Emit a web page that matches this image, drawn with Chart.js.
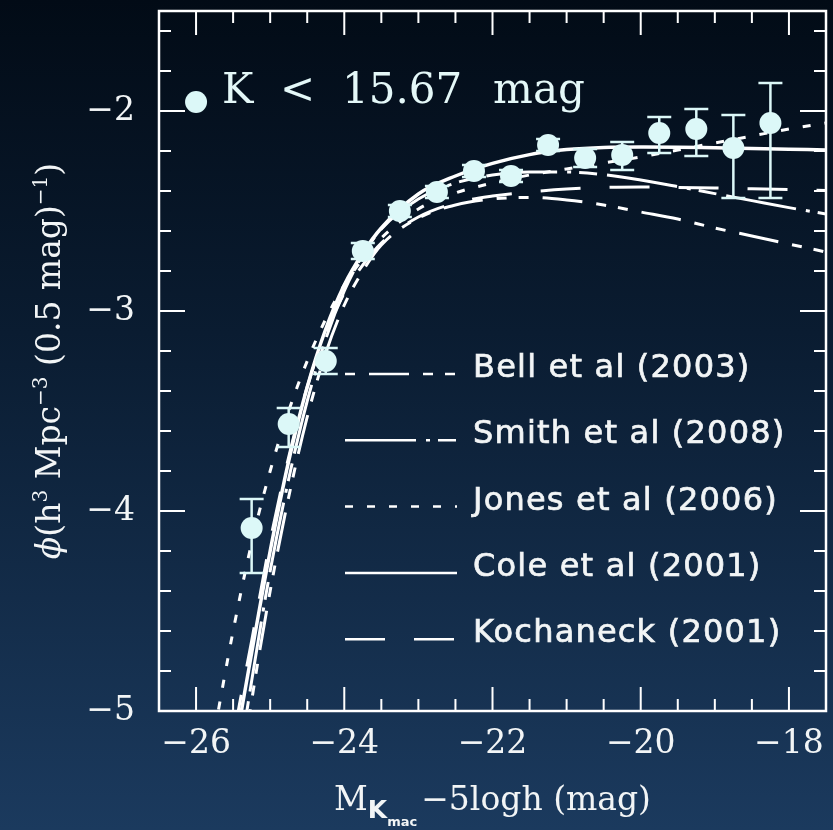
<!DOCTYPE html>
<html>
<head>
<meta charset="utf-8">
<title>K-band luminosity function</title>
<script src="https://cdn.jsdelivr.net/npm/chart.js@4.4.1/dist/chart.umd.min.js"></script>
<style>
    html, body { margin: 0; padding: 0; }
    body {
        width: 833px;
        height: 830px;
        overflow: hidden;
        background: linear-gradient(to bottom, #020b16 0%, #0a1c31 40%, #1b3a5e 100%);
    }
    canvas { display: block; }
</style>
</head>
<body>
<canvas id="lfChart" width="833" height="830"></canvas>
<script>
// observed counts, 0.5 mag bins
const binMags  = [-25.25, -24.75, -24.25, -23.75, -23.25, -22.75, -22.25, -21.75, -21.25, -20.75, -20.25, -19.75, -19.25, -18.75, -18.25];
const phiObs   = [-4.085, -3.565, -3.25, -2.70, -2.50, -2.405, -2.30, -2.325, -2.17, -2.235, -2.22, -2.11, -2.09, -2.185, -2.06];
const phiUpper = [-3.94, -3.485, -3.185, -2.66, -2.47, -2.375, -2.27, -2.295, -2.14, -2.19, -2.155, -2.03, -1.99, -2.02, -1.86];
const phiLower = [-4.31, -3.68, -3.315, -2.74, -2.53, -2.435, -2.33, -2.355, -2.20, -2.28, -2.295, -2.21, -2.225, -2.435, -2.435];

// published Schechter fits, sampled on a common magnitude grid
const curveMags = [-25.75, -25.5, -25.25, -25.0, -24.75, -24.5, -24.25, -24.0, -23.75, -23.5, -23.0, -22.5, -22.0, -21.5, -21.0, -20.5, -20.0, -19.5, -19.0, -18.5, -18.0, -17.5];
const bellPhi  = [-6.3, -5.6, -4.95, -4.40, -3.93, -3.53, -3.21, -2.97, -2.80, -2.67, -2.535, -2.47, -2.44, -2.432, -2.445, -2.47, -2.505, -2.54, -2.585, -2.625, -2.665, -2.705];
const smithPhi = [-6.1, -5.45, -4.85, -4.30, -3.84, -3.45, -3.14, -2.90, -2.72, -2.59, -2.44, -2.36, -2.32, -2.305, -2.305, -2.318, -2.345, -2.378, -2.413, -2.448, -2.483, -2.515];
const jonesPhi = [-5.1, -4.60, -4.16, -3.80, -3.50, -3.25, -3.04, -2.87, -2.74, -2.635, -2.49, -2.41, -2.36, -2.32, -2.29, -2.26, -2.23, -2.195, -2.16, -2.125, -2.09, -2.06];
const colePhi  = [-5.9, -5.25, -4.71, -4.20, -3.75, -3.38, -3.09, -2.87, -2.71, -2.585, -2.415, -2.325, -2.262, -2.218, -2.193, -2.182, -2.18, -2.181, -2.184, -2.187, -2.191, -2.195];
const kochPhi  = [-5.8, -5.15, -4.65, -4.15, -3.73, -3.38, -3.11, -2.91, -2.77, -2.66, -2.53, -2.46, -2.425, -2.405, -2.39, -2.382, -2.38, -2.382, -2.385, -2.389, -2.393, -2.397];

const xMajorTicks = [-26, -24, -22, -20, -18];
const yMajorTicks = [-5, -4, -3, -2];

const dotColour = '#dcf8f8';
const inkColour = '#f2f5f6';
const serif = '"DejaVu Serif", serif';

const toPoints = (xs, ys) => xs.map((x, i) => ({ x: x, y: ys[i] }));
const minus = v => String(v).replace('-', '\u2212');

function curve(label, values, dash, width, dashOffset) {
    return {
        type: 'line',
        label: label,
        data: toPoints(curveMags, values),
        borderColor: '#ffffff',
        borderWidth: width,
        borderDash: dash,
        borderDashOffset: dashOffset || 0,
        pointRadius: 0,
        fill: false,
        cubicInterpolationMode: 'monotone'
    };
}

// error bars sit under the dots but over the model curves
const errorBars = {
    id: 'errorBars',
    beforeDatasetDraw(chart, args) {
        if (args.index !== 0) return;
        const { ctx, scales: { x, y } } = chart;
        ctx.save();
        ctx.strokeStyle = dotColour;
        ctx.lineWidth = 2.5;
        binMags.forEach((m, i) => {
            const px = x.getPixelForValue(m);
            const top = y.getPixelForValue(phiUpper[i]);
            const bot = y.getPixelForValue(phiLower[i]);
            ctx.beginPath();
            ctx.moveTo(px, top); ctx.lineTo(px, bot);
            ctx.moveTo(px - 12, top); ctx.lineTo(px + 12, top);
            ctx.moveTo(px - 12, bot); ctx.lineTo(px + 12, bot);
            ctx.stroke();
        });
        ctx.restore();
    }
};

// box frame with inward ticks on all four sides
const frameTicks = {
    id: 'frameTicks',
    afterDatasetsDraw(chart) {
        const { ctx, chartArea: a, scales: { x, y } } = chart;
        ctx.save();
        ctx.strokeStyle = '#ffffff';
        ctx.lineWidth = 2;
        ctx.beginPath();
        for (let v = -26.5; v <= -17.5 + 1e-6; v += 0.5) {
            const px = x.getPixelForValue(v);
            if (px <= a.left + 1 || px >= a.right - 1) continue;
            const len = xMajorTicks.includes(v) ? 24 : 12;
            ctx.moveTo(px, a.bottom); ctx.lineTo(px, a.bottom - len);
            ctx.moveTo(px, a.top); ctx.lineTo(px, a.top + len);
        }
        for (let k = 0; k <= 17; k++) {
            const v = -5 + k * 0.2;
            const py = y.getPixelForValue(v);
            if (py <= a.top + 1 || py >= a.bottom - 1) continue;
            const len = (k % 5 === 0) ? 26 : 12;
            ctx.moveTo(a.left, py); ctx.lineTo(a.left + len, py);
            ctx.moveTo(a.right, py); ctx.lineTo(a.right - len, py);
        }
        ctx.stroke();
        ctx.lineWidth = 2.5;
        ctx.strokeRect(a.left, a.top, a.right - a.left, a.bottom - a.top);
        ctx.restore();
    }
};

function drawRuns(ctx, runs, x0, baseline) {
    let x = x0;
    runs.forEach(r => {
        ctx.font = r.font;
        ctx.fillText(r.text, x, baseline + (r.dy || 0));
        x += ctx.measureText(r.text).width + (r.gap || 0);
    });
    return x;
}

function runsWidth(ctx, runs) {
    let w = 0;
    runs.forEach(r => {
        ctx.font = r.font;
        w += ctx.measureText(r.text).width + (r.gap || 0);
    });
    return w;
}

// key for the curves, sample text and the axis titles
const annotations = {
    id: 'annotations',
    afterDraw(chart) {
        const { ctx, chartArea: a, scales: { x, y } } = chart;
        ctx.save();

        // model key
        const curves = chart.data.datasets.slice(1);
        curves.forEach((ds, i) => {
            const base = a.top + 366 + i * 66.3;
            ctx.strokeStyle = '#ffffff';
            ctx.lineWidth = 2.5;
            ctx.setLineDash(ds.borderDash);
            ctx.lineDashOffset = ds.borderDashOffset;
            ctx.beginPath();
            ctx.moveTo(a.left + 186, base - 3);
            ctx.lineTo(a.left + 298, base - 3);
            ctx.stroke();
            ctx.setLineDash([]);
            ctx.fillStyle = inkColour;
            ctx.strokeStyle = inkColour;
            ctx.lineWidth = 0.7;
            ctx.font = '32px "DejaVu Sans", sans-serif';
            ctx.letterSpacing = '1.2px';
            ctx.textAlign = 'left';
            ctx.textBaseline = 'alphabetic';
            ctx.fillText(ds.label, a.left + 314, base);
            ctx.strokeText(ds.label, a.left + 314, base);
            ctx.letterSpacing = '0px';
        });

        // sample marker
        const kx = x.getPixelForValue(-26);
        const ky = y.getPixelForValue(-1.955);
        ctx.fillStyle = dotColour;
        ctx.beginPath();
        ctx.arc(kx, ky, 11, 0, Math.PI * 2);
        ctx.fill();
        ctx.font = '42px ' + serif;
        ctx.fillStyle = '#e4f8f8';
        ctx.fillText('K', kx + 26, ky + 1);
        ctx.fillText('<', kx + 84, ky + 1);
        ctx.fillText('15.67', kx + 146, ky + 1);
        ctx.fillText('mag', kx + 297, ky + 1);

        // x title
        ctx.fillStyle = inkColour;
        const xRuns = [
            { text: 'M', font: '33px ' + serif },
            { text: 'K', font: 'bold 25px "DejaVu Sans", sans-serif', dy: 8 },
            { text: 'mac', font: 'bold 13px "DejaVu Sans", sans-serif', dy: 16, gap: 4 },
            { text: '\u22125logh (mag)', font: '33px ' + serif }
        ];
        const cx = (a.left + a.right) / 2;
        drawRuns(ctx, xRuns, cx - runsWidth(ctx, xRuns) / 2, 810);

        // y title, rotated
        const yRuns = [
            { text: '\u03d5', font: 'italic 33px ' + serif },
            { text: '(h', font: '33px ' + serif },
            { text: '3', font: '20px ' + serif, dy: -13 },
            { text: ' Mpc', font: '33px ' + serif },
            { text: '\u22123', font: '20px ' + serif, dy: -13 },
            { text: ' (0.5 mag)', font: '33px ' + serif },
            { text: '\u22121', font: '20px ' + serif, dy: -13 },
            { text: ')', font: '33px ' + serif }
        ];
        ctx.translate(60, (a.top + a.bottom) / 2);
        ctx.rotate(-Math.PI / 2);
        drawRuns(ctx, yRuns, -runsWidth(ctx, yRuns) / 2, 0);

        ctx.restore();
    }
};

const ctx = document.getElementById('lfChart').getContext('2d');
new Chart(ctx, {
    data: {
        datasets: [
            {
                type: 'scatter',
                label: 'K < 15.67 mag',
                data: toPoints(binMags, phiObs),
                pointRadius: 11,
                pointBackgroundColor: dotColour,
                pointBorderWidth: 0
            },
            curve('Bell et al (2003)', bellPhi, [40, 14, 10, 12, 10, 14], 3, 76),
            curve('Smith et al (2008)', smithPhi, [71, 10, 4, 8, 18, 10], 3),
            curve('Jones et al (2006)', jonesPhi, [8, 14], 3),
            curve('Cole et al (2001)', colePhi, [], 3.5),
            curve('Kochaneck (2001)', kochPhi, [40, 29], 3)
        ]
    },
    options: {
        responsive: false,
        animation: false,
        layout: { autoPadding: false, padding: { top: 11, right: 7, left: 0, bottom: 0 } },
        scales: {
            x: {
                type: 'linear',
                position: 'bottom',
                min: -26.5,
                max: -17.5,
                afterBuildTicks: s => { s.ticks = xMajorTicks.map(v => ({ value: v })); },
                afterFit: s => {
                    s.height = 119;
                    s.paddingLeft = 0;
                    s.paddingRight = 0;
                },
                grid: { display: false, drawTicks: false },
                border: { display: false },
                ticks: {
                    callback: v => minus(v),
                    font: { family: serif, size: 33 },
                    color: inkColour,
                    padding: 14,
                    maxRotation: 0,
                    autoSkip: false
                }
            },
            y: {
                type: 'linear',
                min: -5,
                max: -1.5,
                afterBuildTicks: s => { s.ticks = yMajorTicks.map(v => ({ value: v })); },
                afterFit: s => {
                    s.width = 159;
                    s.paddingTop = 0;
                    s.paddingBottom = 0;
                },
                grid: { display: false, drawTicks: false },
                border: { display: false },
                ticks: {
                    callback: v => minus(v),
                    font: { family: serif, size: 33 },
                    color: inkColour,
                    padding: 24
                }
            }
        },
        plugins: {
            legend: { display: false },
            tooltip: { enabled: false }
        }
    },
    plugins: [errorBars, frameTicks, annotations]
});
</script>
</body>
</html>
